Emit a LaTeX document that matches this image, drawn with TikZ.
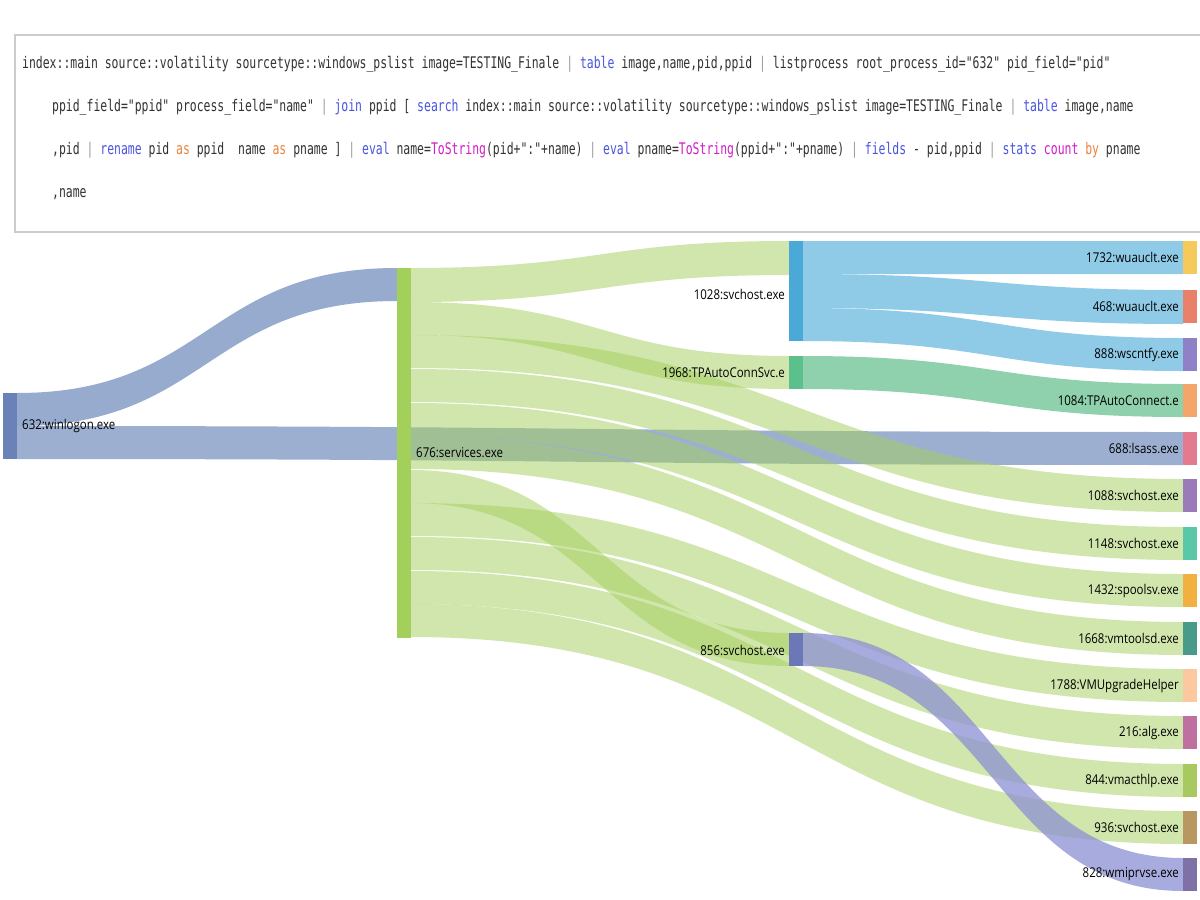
\documentclass[tikz,border=0pt]{standalone}
\usepackage{fontspec}
\newfontfamily\qfont[FakeStretch=0.715]{DejaVu Sans Mono}
\newfontfamily\lfont[FakeStretch=0.85]{Open Sans}
\definecolor{kb}{HTML}{4A55E0}
\definecolor{ko}{HTML}{E8843C}
\definecolor{km}{HTML}{D21EC8}
\definecolor{kp}{HTML}{9A9A9A}
\definecolor{tx}{HTML}{333333}
\definecolor{wlb}{HTML}{6B82B9}
\definecolor{wlf}{HTML}{8CA2CA}
\definecolor{svb}{HTML}{A3CF5B}
\definecolor{c28b}{HTML}{4AA9D6}
\definecolor{c28f}{HTML}{8FCBE7}
\definecolor{c68b}{HTML}{5CC08C}
\definecolor{c68f}{HTML}{8FD1AC}
\definecolor{c56b}{HTML}{6B77B7}
\definecolor{c56f}{HTML}{8C90D2}
\newcommand\bandd[6]{\fill[#6] (#1,#2) .. controls ({(#1+#3)/2},#2) and ({(#1+#3)/2},#4) .. (#3,#4) -- (#3,{#4+#5}) .. controls ({(#1+#3)/2},{#4+#5}) and ({(#1+#3)/2},{#2+#5}) .. (#1,{#2+#5}) -- cycle;}
\newcommand\rnode[3]{\definecolor{rtmp}{HTML}{#3}\fill[fill=rtmp] (1183,#1) rectangle (1197,{#1+33}); \node[lbl,anchor=east] at (1179,{#1+16.5}) {#2};}
\begin{document}
\begin{tikzpicture}[x=1pt,y=-1pt,
  lbl/.style={font=\lfont\fontsize{13.5}{15}\selectfont,text=black,inner sep=0pt},
  q/.style={font=\qfont\fontsize{16}{18}\selectfont,text=tx,inner sep=0pt,anchor=base west},
  gb/.style={fill=svb,opacity=0.5}]
\useasboundingbox (0,0) rectangle (1200,900);
\fill[white] (0,0) rectangle (1200,900);
\draw[gray!40,line width=1.2pt] (1205,35) -- (15,35) -- (15,232) -- (1205,232);
\node[q] at (22,68) {index::main source::volatility sourcetype::windows\_pslist image=TESTING\_Finale \textcolor{kp}{|} \textcolor{kb}{table} image,name,pid,ppid \textcolor{kp}{|} listprocess root\_process\_id="632" pid\_field="pid"};
\node[q] at (52,111) {ppid\_field="ppid" process\_field="name" \textcolor{kp}{|} \textcolor{kb}{join} ppid [ \textcolor{kb}{search} index::main source::volatility sourcetype::windows\_pslist image=TESTING\_Finale \textcolor{kp}{|} \textcolor{kb}{table} image,name};
\node[q] at (52,154) {,pid \textcolor{kp}{|} \textcolor{kb}{rename} pid \textcolor{ko}{as} ppid~ name \textcolor{ko}{as} pname ] \textcolor{kp}{|} \textcolor{kb}{eval} name=\textcolor{km}{ToString}(pid+":"+name) \textcolor{kp}{|} \textcolor{kb}{eval} pname=\textcolor{km}{ToString}(ppid+":"+pname) \textcolor{kp}{|} \textcolor{kb}{fields} - pid,ppid \textcolor{kp}{|} \textcolor{kb}{stats} \textcolor{km}{count} \textcolor{ko}{by} pname};
\node[q] at (52,197) {,name};
% bands
\bandd{17}{393}{397}{268}{33}{wlf,opacity=0.9}
\bandd{17}{426}{1183}{432}{33}{wlf,opacity=0.85}
\bandd{411}{268}{789}{241}{34}{gb}
\bandd{411}{302}{789}{356}{33}{gb}
\bandd{411}{335}{1183}{479}{33}{gb}
\bandd{411}{369}{1183}{527}{33}{gb}
\bandd{411}{403}{1183}{574}{33}{gb}
\bandd{411}{436}{1183}{622}{33}{gb}
\bandd{411}{470}{789}{633}{33}{gb}
\bandd{411}{503}{1183}{669}{33}{gb}
\bandd{411}{537}{1183}{716}{33}{gb}
\bandd{411}{571}{1183}{764}{33}{gb}
\bandd{411}{604}{1183}{811}{33}{gb}
\bandd{803}{241}{1183}{241}{33}{c28f}
\bandd{803}{274}{1183}{290}{34}{c28f}
\bandd{803}{308}{1183}{338}{33}{c28f}
\bandd{803}{356}{1183}{384}{33}{c68f}
\bandd{803}{633}{1183}{858}{33}{c56f,opacity=0.75}
% bars
\fill[wlb] (3,393) rectangle (17,459);
\node[lbl,anchor=west] (wl) at (22,426) {632:winlogon.exe};
\fill[svb] (397,268) rectangle (411,638);
\node[lbl,anchor=west] (sv) at (416,453) {676:services.exe};
\fill[c28b] (789,241) rectangle (803,341);
\node[lbl,anchor=east] at (785,294) {1028:svchost.exe};
\fill[c68b] (789,356) rectangle (803,389);
\node[lbl,anchor=east] at (785,373) {1968:TPAutoConnSvc.e};
\fill[c56b] (789,633) rectangle (803,666);
\node[lbl,anchor=east] at (785,650) {856:svchost.exe};
\rnode{241}{1732:wuauclt.exe}{F5C95A}
\rnode{290}{468:wuauclt.exe}{E8806A}
\rnode{338}{888:wscntfy.exe}{8F80C8}
\rnode{384}{1084:TPAutoConnect.e}{F4A56A}
\rnode{432}{688:lsass.exe}{E47A8F}
\rnode{479}{1088:svchost.exe}{9A7AB8}
\rnode{527}{1148:svchost.exe}{5AC8A8}
\rnode{574}{1432:spoolsv.exe}{F2B040}
\rnode{622}{1668:vmtoolsd.exe}{4A9A8A}
\rnode{669}{1788:VMUpgradeHelper}{FCC8A0}
\rnode{716}{216:alg.exe}{C070A0}
\rnode{764}{844:vmacthlp.exe}{A8C860}
\rnode{811}{936:svchost.exe}{B89860}
\rnode{858}{828:wmiprvse.exe}{8070A8}
\end{tikzpicture}
\end{document}
